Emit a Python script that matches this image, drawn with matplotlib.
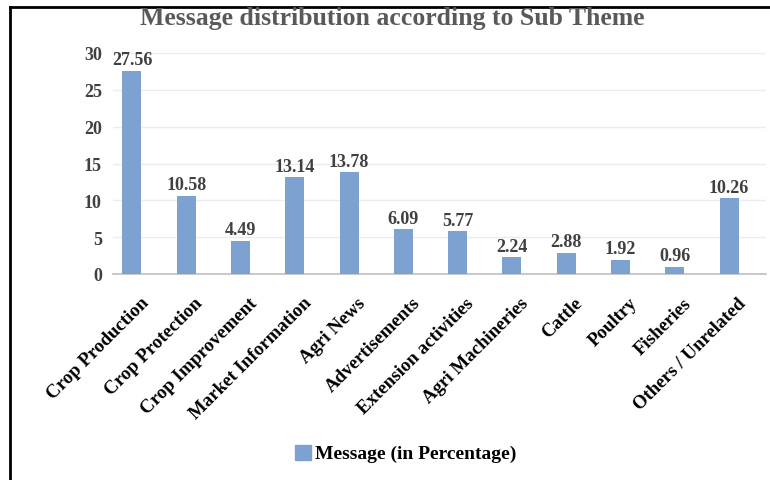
import numpy as np
import matplotlib
matplotlib.use('Agg')
import matplotlib.pyplot as plt
import matplotlib.transforms as mtransforms
from matplotlib.patches import Rectangle
from matplotlib.lines import Line2D

categories = ['Crop Production', 'Crop Protection', 'Crop Improvement',
              'Market Information', 'Agri News', 'Advertisements',
              'Extension activities', 'Agri Machineries', 'Cattle',
              'Poultry', 'Fisheries', 'Others / Unrelated']
values = [27.56, 10.58, 4.49, 13.14, 13.78, 6.09, 5.77, 2.24, 2.88, 1.92, 0.96, 10.26]
yticks = [0, 5, 10, 15, 20, 25, 30]

BAR = '#7da2d1'
DARK = '#404040'

plt.rcParams.update({
    'font.family': 'Liberation Serif',
    'font.weight': 'bold',
})

W, H = 770, 481
fig = plt.figure(figsize=(W / 100, H / 100), dpi=100)
ax = fig.add_axes([113 / W, 1 - 275 / H, 653 / W, 221 / H])

x = np.arange(len(categories))
ax.bar(x, values, width=0.35, color=BAR, zorder=3)
for xi, v in zip(x, values):
    ax.text(xi, v + 0.35, f'{v:.2f}', ha='center', va='bottom',
            fontsize=13, fontweight='bold', color=DARK)

ax.set_xlim(-0.35, 11.68)
ax.set_ylim(0, 30)
ax.set_yticks(yticks)
ax.set_yticklabels([str(t) for t in yticks], fontsize=13,
                   fontweight='bold', color=DARK)
ax.set_xticks(x)
ax.set_xticklabels([])

# category labels, rotated, tip offset to the right of each bar
offset = mtransforms.ScaledTranslation(0.08, -0.2, fig.dpi_scale_trans)
for xi, cat in zip(x, categories):
    ax.text(xi, 0, cat, transform=ax.get_xaxis_transform() + offset,
            rotation=45, ha='right', va='top', rotation_mode='anchor',
            fontsize=13.6, fontweight='bold', color='black')

ax.tick_params(axis='both', length=0)
ax.tick_params(axis='y', pad=8)
ax.grid(axis='y', color='#ececec', lw=1.0, zorder=0)
for s in ['top', 'right', 'left']:
    ax.spines[s].set_visible(False)
ax.spines['bottom'].set_color('#bfbfbf')
ax.spines['bottom'].set_linewidth(1.2)

fig.text(392 / W, 1 - 19 / H, 'Message distribution according to Sub Theme',
         ha='center', va='center', fontsize=18.5, fontweight='bold',
         color='#595959')

# legend
fig.patches.append(Rectangle((295 / W, 1 - 461 / H), 16 / W, 15 / H,
                             transform=fig.transFigure, color=BAR))
fig.text(315 / W, 1 - 454 / H, 'Message (in Percentage)', ha='left',
         va='center', fontsize=14, fontweight='bold', color='black')

# outer frame (top and left edges)
fig.add_artist(Line2D([9.5 / W, 9.5 / W], [0, 1 - 7.5 / H],
                      transform=fig.transFigure, color='black', lw=2))
fig.add_artist(Line2D([9.5 / W, 1], [1 - 7.5 / H, 1 - 7.5 / H],
                      transform=fig.transFigure, color='black', lw=2))

fig.savefig('out.png', dpi=100, facecolor='white')
